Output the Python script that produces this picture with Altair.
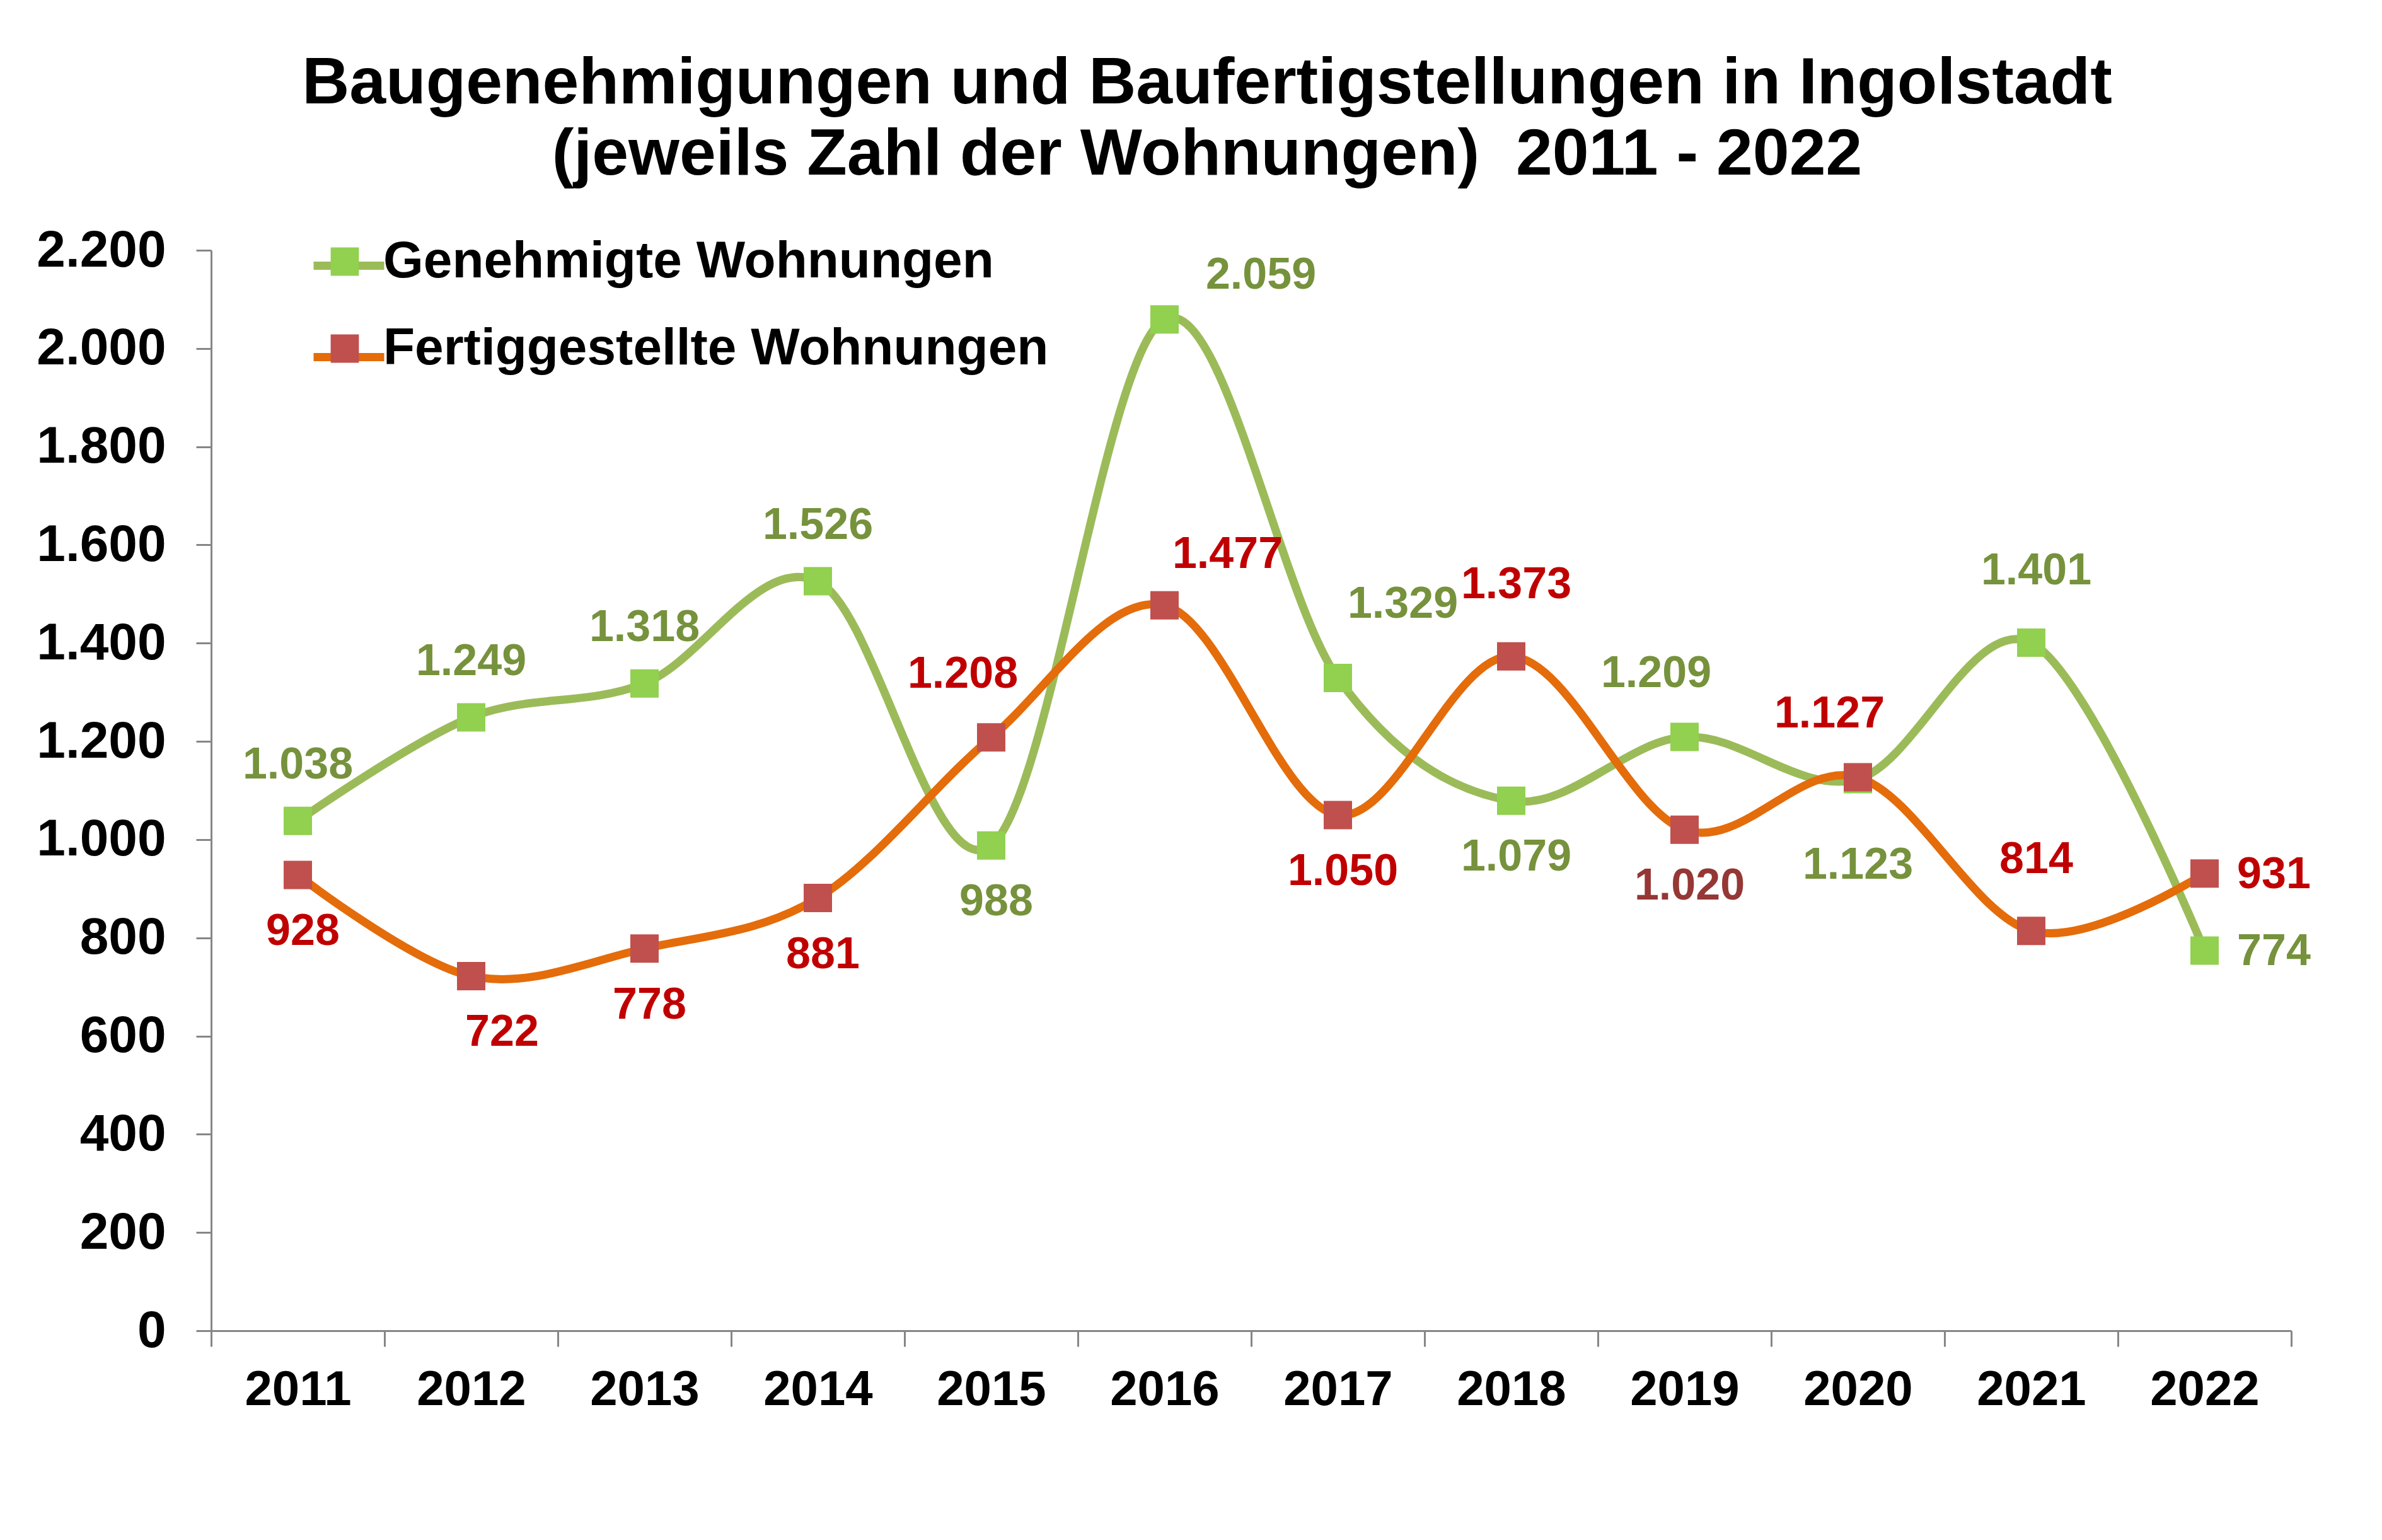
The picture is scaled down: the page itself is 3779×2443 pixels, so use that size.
import altair as alt
import pandas as pd

# Daten
JAHRE = ["2011", "2012", "2013", "2014", "2015", "2016",
         "2017", "2018", "2019", "2020", "2021", "2022"]
GENEHMIGT = [1038, 1249, 1318, 1526, 988, 2059, 1329, 1079, 1209, 1123, 1401, 774]
FERTIG = [928, 722, 778, 881, 1208, 1477, 1050, 1373, 1020, 1127, 814, 931]
REIHEN = ["Genehmigte Wohnungen", "Fertiggestellte Wohnungen"]
Y_WERTE = [0, 200, 400, 600, 800, 1000, 1200, 1400, 1600, 1800, 2000, 2200]
TITEL = [
    "Baugenehmigungen und Baufertigstellungen in Ingolstadt",
    "(jeweils Zahl der Wohnungen)\u00a0 2011 - 2022",
]

# Lage der Beschriftungen (wie im Original von Hand verschoben)
LAGE_GENEHMIGT = ["oben", "oben", "oben", "oben", "unten", "rechts_oben",
                  "oben_rechts_weit", "unten", "oben_links", "unten_weit",
                  "oben_weit", "rechts"]
LAGE_FERTIG = ["unten", "unten_rechts", "unten", "unten", "oben_links",
               "oben_rechts", "unten", "oben_weit", "unten", "oben_links",
               "oben_weit", "rechts"]
VERSATZ = {
    "oben": (0, -88),
    "oben_weit": (8, -113),
    "unten": (8, 90),
    "unten_weit": (0, 137),
    "rechts": (110, 2),
    "oben_rechts": (100, -80),
    "oben_rechts_weit": (103, -117),
    "rechts_oben": (153, -70),
    "oben_links": (-45, -100),
    "unten_rechts": (49, 90),
}

# Farben (Excel-Stil)
GRUEN_LINIE = "#9BBB59"
GRUEN_MARKER = "#92D050"
GRUEN_TEXT = "#76923C"
ORANGE_LINIE = "#E46C0A"
ROT_MARKER = "#C0504D"
ROT_TEXT = "#C00000"
DUNKELROT_TEXT = "#953735"
ACHSE = "#868686"
FONT = "Liberation Sans"

rows = []
for j, g, f, lg, lf in zip(JAHRE, GENEHMIGT, FERTIG, LAGE_GENEHMIGT, LAGE_FERTIG):
    rows.append({"Jahr": j, "Reihe": REIHEN[0], "Wert": g, "Lage": lg})
    rows.append({"Jahr": j, "Reihe": REIHEN[1], "Wert": f, "Lage": lf})
df = pd.DataFrame(rows)

x = alt.X(
    "Jahr:O",
    sort=JAHRE,
    scale=alt.Scale(type="band", paddingInner=0, paddingOuter=0),
    axis=alt.Axis(
        title=None, labelAngle=0, tickBand="extent", grid=False,
        domainColor=ACHSE, domainWidth=3, tickColor=ACHSE, tickWidth=3, tickSize=25,
        labelFont=FONT, labelFontSize=78, labelFontWeight="bold", labelColor="black",
        labelPadding=30,
    ),
)
y = alt.Y(
    "Wert:Q",
    scale=alt.Scale(domain=[0, 2200], nice=False),
    axis=alt.Axis(
        title=None, values=Y_WERTE, grid=False, labelLimit=1000,
        labelExpr="replace(format(datum.value, ','), ',', '.')",
        domainColor=ACHSE, domainWidth=3, tickColor=ACHSE, tickWidth=3, tickSize=24,
        labelFont=FONT, labelFontSize=82, labelFontWeight="bold", labelColor="black",
        labelPadding=48,
    ),
)

base = alt.Chart(df).transform_calculate(
    Serie="datum.Reihe",
    Beschriftung="replace(format(datum.Wert, ','), ',', '.')",
    Textfarbe=(
        f"datum.Reihe == '{REIHEN[0]}' ? '{GRUEN_TEXT}' : "
        f"(datum.Jahr == '2019' ? '{DUNKELROT_TEXT}' : '{ROT_TEXT}')"
    ),
)

legend_common = dict(
    orient="none", legendX=156, legendY=-38, title=None, padding=0,
    symbolSize=12544, rowPadding=41, labelOffset=5, labelLimit=3000,
    labelFont=FONT, labelFontSize=82, labelFontWeight="bold", labelColor="black",
)
# Linie und Quadrat als zwei deckungsgleiche Legenden (nur eine mit Text)
color = alt.Color(
    "Reihe:N",
    scale=alt.Scale(domain=REIHEN, range=[GRUEN_LINIE, ORANGE_LINIE]),
    legend=alt.Legend(symbolType="stroke", symbolStrokeWidth=13, labelExpr="''",
                      **legend_common),
)
fill = alt.Fill(
    "Serie:N",
    sort=REIHEN,
    scale=alt.Scale(range=[GRUEN_MARKER, ROT_MARKER]),
    legend=alt.Legend(symbolType="M-0.4,-0.4H0.4V0.4H-0.4Z", symbolStrokeWidth=0,
                      symbolOpacity=1, **legend_common),
)

layers = []
for reihe in REIHEN:
    sub = base.transform_filter(alt.datum.Reihe == reihe)
    layers.append(
        sub.mark_line(interpolate="cardinal", strokeWidth=13, strokeCap="round",
                      strokeJoin="round").encode(x=x, y=y, color=color)
    )
    layers.append(
        sub.mark_point(shape="square", filled=True, size=2025, opacity=1)
        .encode(x=x, y=y, fill=fill)
    )

for lage, (dx, dy) in VERSATZ.items():
    layers.append(
        base.transform_filter(alt.datum.Lage == lage)
        .mark_text(dx=dx, dy=dy, font=FONT, fontSize=70, fontWeight="bold",
                   align="center", baseline="middle")
        .encode(x=x, y=y, text="Beschriftung:N",
                color=alt.Color("Textfarbe:N", scale=None))
    )

chart = (
    alt.layer(*layers)
    .properties(
        width=3300,
        height=1714,
        autosize="none",
        padding={"left": 327, "top": 389, "right": 110, "bottom": 200},
        title=alt.Title(
            TITEL, font=FONT, fontSize=104, fontWeight="bold", color="black",
            anchor="middle", dx=-70, offset=57, lineHeight=113,
        ),
    )
    .configure_view(stroke=None)
)

chart.save("out.html", embed_options={"renderer": "svg", "actions": False})
